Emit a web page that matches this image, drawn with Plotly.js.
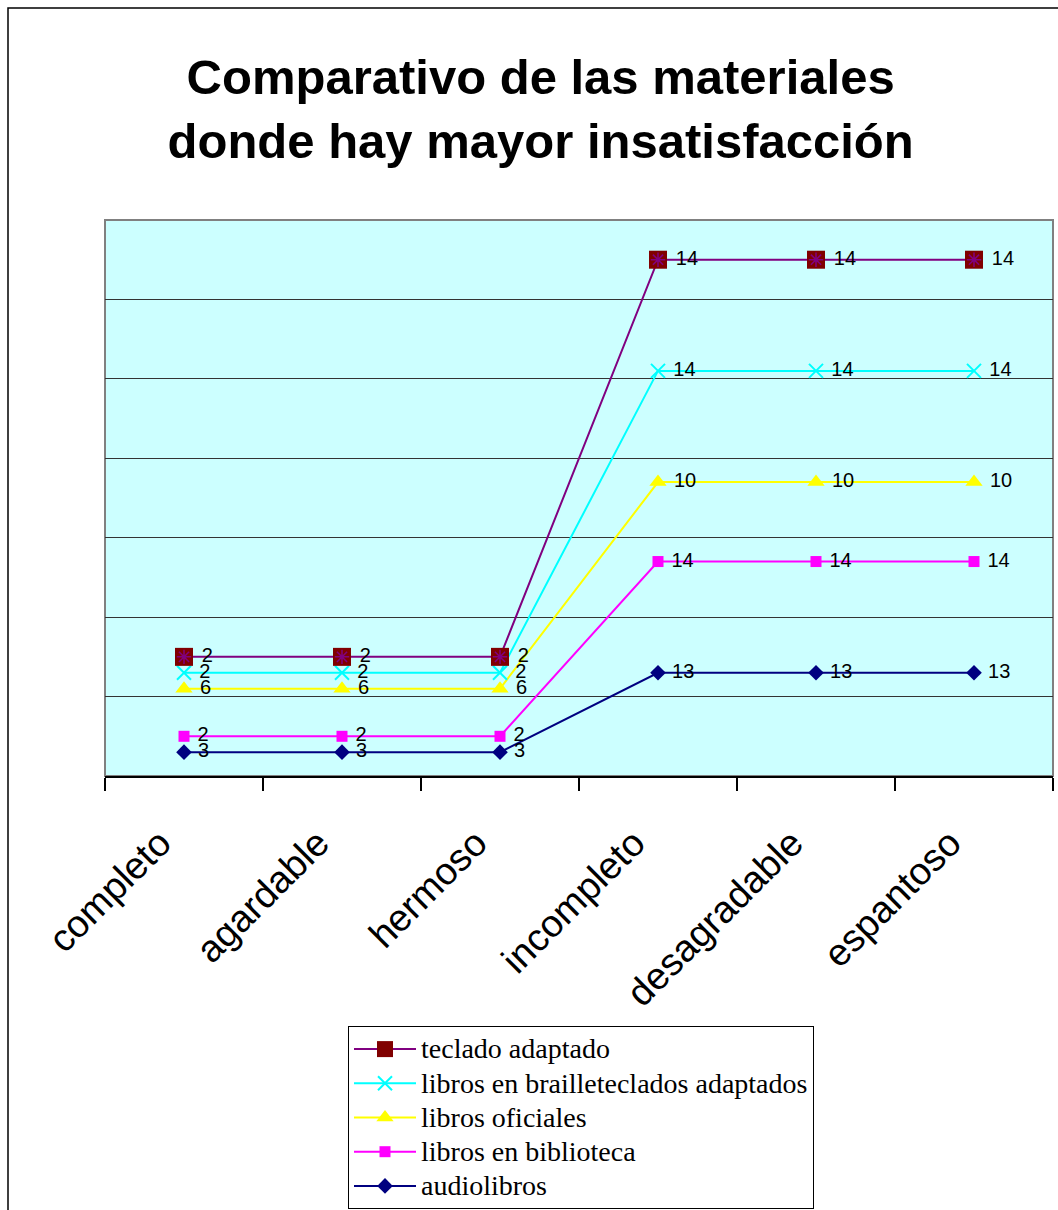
<!DOCTYPE html>
<html>
<head>
<meta charset="utf-8">
<script src="https://cdn.plot.ly/plotly-3.0.1.min.js"></script>
<style>
  html, body { margin: 0; padding: 0; background: #fff; }
  #chart { width: 1058px; height: 1210px; }
</style>
</head>
<body>
<div id="chart"></div>
<script>
// Categories along the x axis
const categorias = ["completo", "agardable", "hermoso", "incompleto", "desagradable", "espantoso"];

// Series values (stacked from bottom to top)
const audiolibros        = [3, 3, 3, 13, 13, 13];
const librosBiblioteca   = [2, 2, 2, 14, 14, 14];
const librosOficiales    = [6, 6, 6, 10, 10, 10];
const librosBraille      = [2, 2, 2, 14, 14, 14];
const tecladoAdaptado    = [2, 2, 2, 14, 14, 14];

// Series names
const nombres = [
  "audiolibros",
  "libros en biblioteca",
  "libros oficiales",
  "libros en brailleteclados adaptados",
  "teclado adaptado"
];

const series = [audiolibros, librosBiblioteca, librosOficiales, librosBraille, tecladoAdaptado];

// Stacked line: each series sits on the running total of the ones below it
const acumulado = [];
let base = categorias.map(() => 0);
series.forEach(s => {
  base = base.map((b, i) => b + s[i]);
  acumulado.push(base.slice());
});

const estilos = [
  { line: "#000080", marker: { symbol: "diamond", size: 12, color: "#000080" } },
  { line: "#FF00FF", marker: { symbol: "square", size: 11, color: "#FF00FF" } },
  { line: "#FFFF00", marker: { symbol: "triangle-up", size: 15, color: "#FFFF00" } },
  { line: "#00FFFF", marker: { symbol: "x-thin-open", size: 14, color: "#00FFFF", line: { width: 2, color: "#00FFFF" } } },
  { line: "#800080", marker: { symbol: "square", size: 18, color: "#800000" } }
];

const labelFont = { family: "Liberation Sans, Arial, sans-serif", size: 20, color: "#000" };

// Legend entries use a slightly larger glyph size than the row spacing implies
const legendName = n => '<span style="font-size:28px">' + n + '</span>';

const traces = series.map((s, k) => ({
  type: "scatter",
  mode: "lines+markers+text",
  name: legendName(nombres[k]),
  x: categorias,
  y: acumulado[k],
  text: s.map(v => "\u00a0" + v),
  textposition: "middle right",
  textfont: labelFont,
  cliponaxis: false,
  line: { color: estilos[k].line, width: 2 },
  marker: estilos[k].marker,
  legendrank: 10 - k
}));

// Purple asterisk drawn on top of the dark red squares of "teclado adaptado"
traces.push({
  type: "scatter",
  mode: "markers",
  x: categorias,
  y: acumulado[4],
  showlegend: false,
  hoverinfo: "skip",
  marker: { symbol: "asterisk-open", size: 12, color: "#800080", line: { width: 1.5, color: "#800080" } }
});

const plotL = 105, plotR = 1053, plotT = 220, plotB = 776;
const W = 1058, H = 1210;
const pw = plotR - plotL, ph = plotB - plotT;
const px = v => (v - plotL) / pw;
const py = v => (plotB - v) / ph;

const layout = {
  width: W,
  height: H,
  margin: { l: plotL, r: W - plotR, t: plotT, b: H - plotB, pad: 0, autoexpand: false },
  paper_bgcolor: "#ffffff",
  plot_bgcolor: "#CCFFFF",
  font: { family: "Liberation Sans, Arial, sans-serif", color: "#000" },
  title: {
    text: "Comparativo de las materiales<br>donde hay mayor insatisfacción",
    font: { family: "Liberation Sans, Arial, sans-serif", size: 49, color: "#000", weight: "bold" },
    x: 0.511,
    xanchor: "center",
    y: 1 - 94 / H,
    yanchor: "middle"
  },
  xaxis: {
    type: "category",
    tickson: "boundaries",
    ticks: "outside",
    ticklen: 13,
    tickwidth: 1.5,
    tickcolor: "#000",
    tickangle: -45,
    ticklabelstandoff: 28,
    ticklabelshift: -24,
    tickfont: { family: "Liberation Sans, Arial, sans-serif", size: 38, color: "#000" },
    showline: true,
    linecolor: "#000",
    linewidth: 1.5,
    showgrid: false,
    zeroline: false,
    automargin: false,
    range: [-0.5, 5.5],
    fixedrange: true
  },
  yaxis: {
    range: [0, 70],
    dtick: 10,
    showticklabels: false,
    ticks: "",
    showgrid: true,
    gridcolor: "#333333",
    gridwidth: 1,
    zeroline: false,
    showline: false,
    automargin: false,
    fixedrange: true
  },
  showlegend: true,
  legend: {
    x: px(348),
    xanchor: "left",
    y: py(1026),
    yanchor: "top",
    bgcolor: "#ffffff",
    bordercolor: "#000",
    borderwidth: 1,
    font: { family: "Liberation Serif, Times New Roman, serif", size: 24, color: "#000" },
    tracegroupgap: 0,
    itemwidth: 62
  },
  shapes: [
    // outer chart frame
    { type: "rect", xref: "paper", yref: "paper", x0: px(8), x1: px(W + 20), y0: py(H + 20), y1: py(8),
      line: { color: "#000", width: 1.5 }, fillcolor: "rgba(0,0,0,0)", layer: "below" },
    // plot area border
    { type: "rect", xref: "paper", yref: "paper", x0: 0, x1: 1, y0: 0, y1: 1,
      line: { color: "#808080", width: 2 }, fillcolor: "rgba(0,0,0,0)", layer: "below" }
  ]
};

Plotly.newPlot("chart", traces, layout, { displayModeBar: false, staticPlot: true });
</script>
</body>
</html>
